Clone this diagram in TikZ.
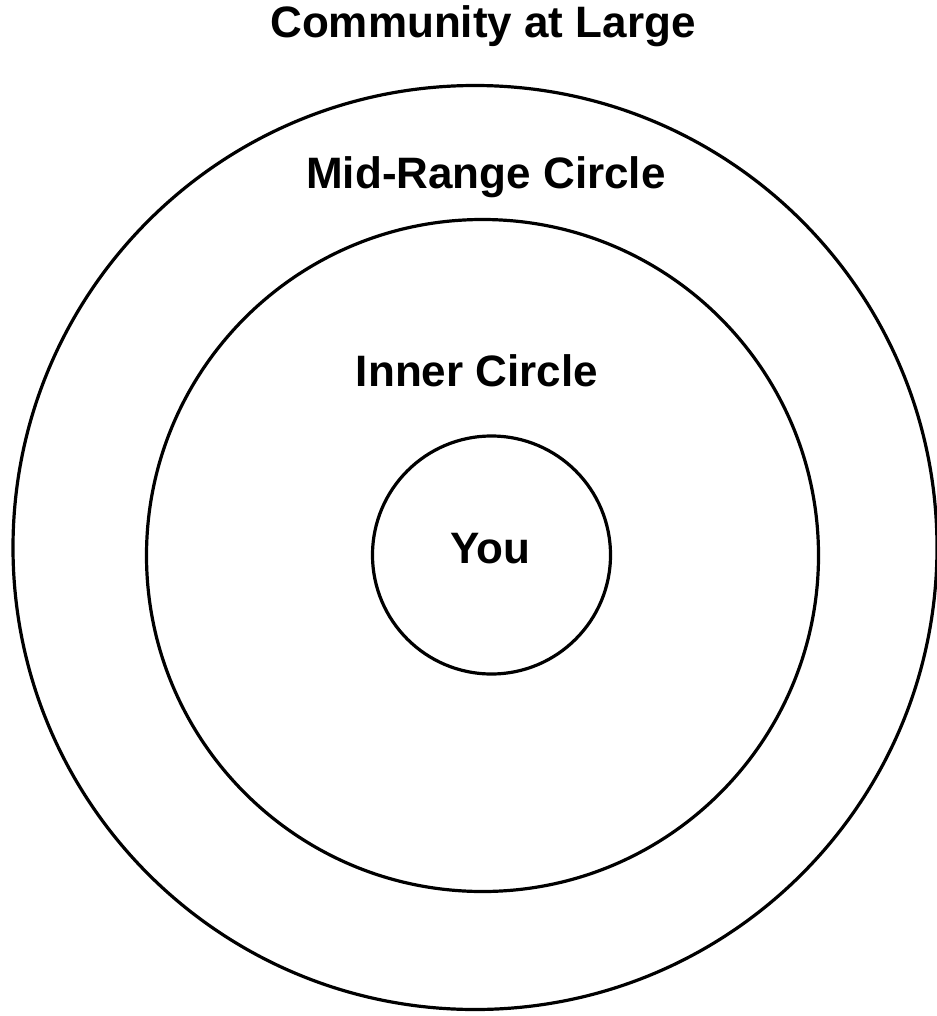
\documentclass[tikz,border=0pt]{standalone}
\usepackage{fontspec}
\setmainfont{Liberation Sans}
\usetikzlibrary{positioning}

\begin{document}
\begin{tikzpicture}[x=1pt, y=-1pt,
  ring/.style={draw, circle, line width=3.2pt, inner sep=0pt},
  ringlabel/.style={anchor=base, font=\fontsize{44}{48}\selectfont\bfseries}]
  \useasboundingbox (0,0) rectangle (936,1016);
  % Circles
  \node[ring, minimum size=924pt] (outer) at (475,547.5) {};
  \node[ring, minimum size=672pt] (mid)   at (482.5,555.5) {};
  \node[ring, minimum size=238pt] (inner) at (491.5,555) {};
  % Labels
  \node[ringlabel] (community) at (483,38)  {Community at Large};
  \node[ringlabel] (midrange)  at (486,189) {Mid-Range Circle};
  \node[ringlabel] (innerlbl)  at (477,386) {Inner Circle};
  \node[ringlabel] (you)       at (490,563) {You};
\end{tikzpicture}
\end{document}
